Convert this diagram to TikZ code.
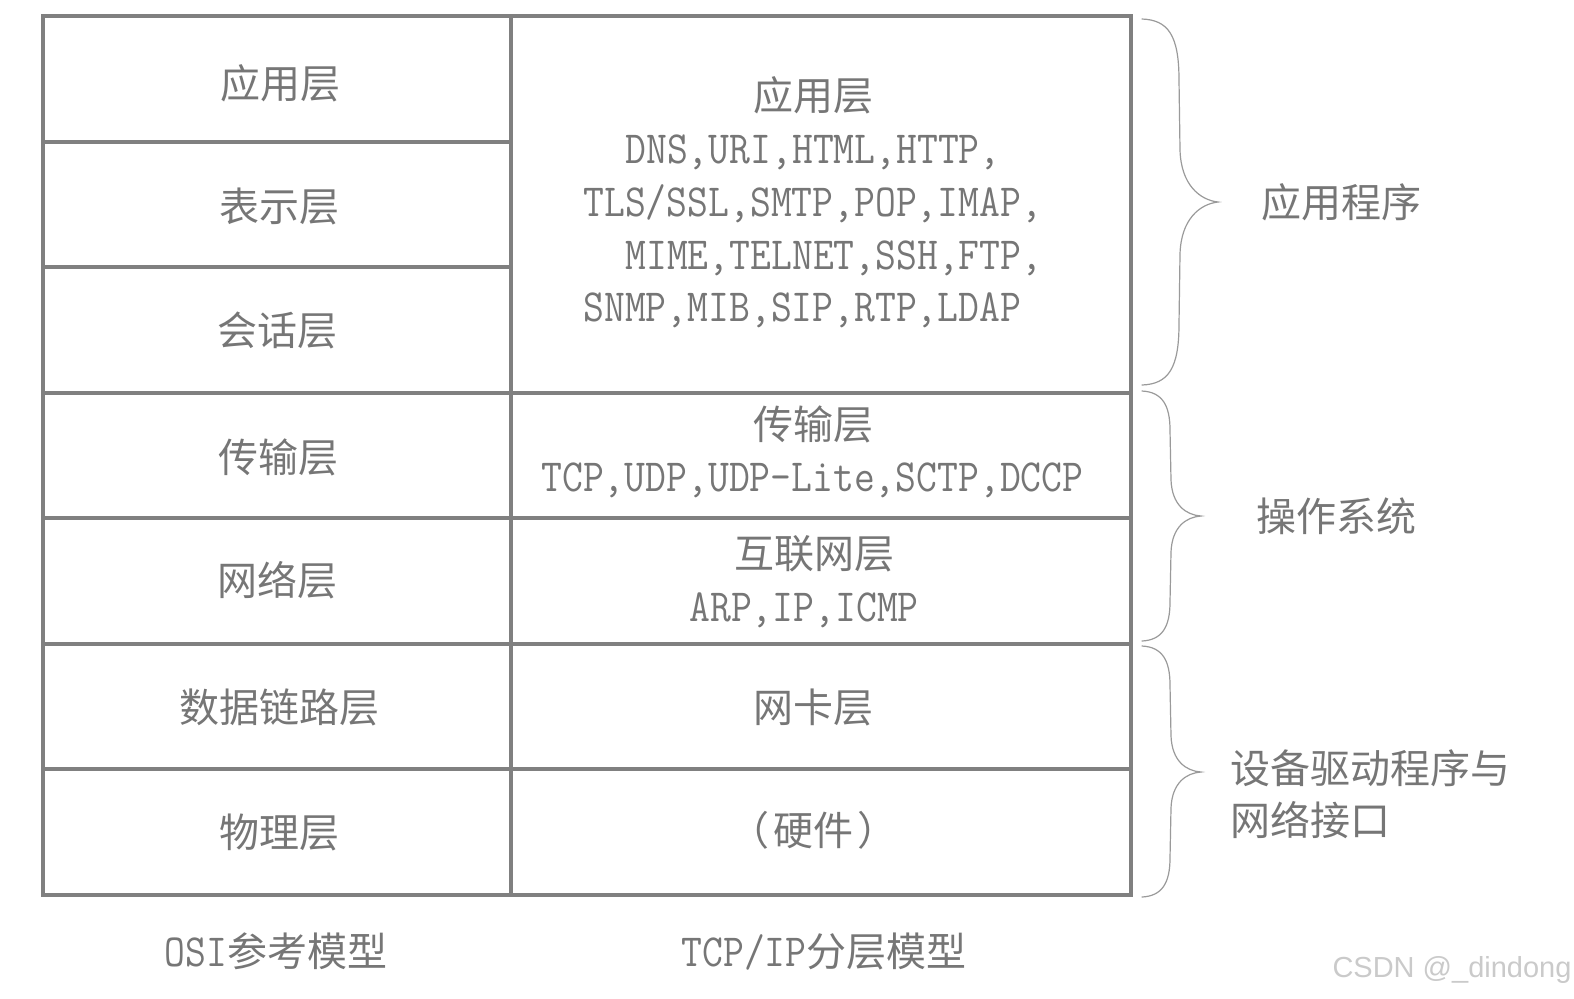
\documentclass[tikz,border=0pt]{standalone}
\usepackage{fontspec}
\setmainfont{Noto Sans CJK SC}
\newfontfamily\latfont[Scale=1.15,FakeStretch=0.88]{Latin Modern Mono}
\newfontfamily\markfont{Liberation Sans}
\definecolor{tablegray}{HTML}{808080}
\definecolor{textgray}{HTML}{767676}
\definecolor{bracegray}{HTML}{9A9A9A}
\definecolor{markgray}{HTML}{CACACA}
\begin{document}
\begin{tikzpicture}[x=0.5pt,y=-0.5pt,line join=miter,
  zh/.style={anchor=base,inner sep=0pt,text=textgray,font=\fontsize{20pt}{24pt}\selectfont},
  la/.style={anchor=base west,inner sep=0pt,text=textgray,font=\fontsize{20pt}{24pt}\selectfont\latfont},
  gridline/.style={draw=tablegray,line width=2pt},
  braceline/.style={draw=bracegray,line width=0.6pt,line cap=round}]
\path[use as bounding box] (0,0) rectangle (1574,998);
% Table frame, column divider and row lines.
\coordinate (tab-nw) at (43,16);
\coordinate (tab-se) at (1131,895);
\draw[gridline] (tab-nw) rectangle (tab-se);
\draw[gridline] (511,16) -- (511,895);
\foreach \y in {141.6,267.1}
  \draw[gridline] (43,\y) -- (511,\y);
\foreach \y in {392.7,518.3,643.9,769.4}
  \draw[gridline] (43,\y) -- (1131,\y);
% OSI column.
\node[zh] (osi-app)  at (280,98)  {应用层};
\node[zh] (osi-pres) at (279,221) {表示层};
\node[zh] (osi-sess) at (277,345) {会话层};
\node[zh] (osi-tran) at (278,472) {传输层};
\node[zh] (osi-net)  at (277,595) {网络层};
\node[zh] (osi-link) at (279,722) {数据链路层};
\node[zh] (osi-phy)  at (279,847) {物理层};
% TCP/IP column.
\node[zh] (tcp-app) at (813,110) {应用层};
\node[la] (tcp-app-1) at (625,163) {DNS,URI,HTML,HTTP,};
\node[la] (tcp-app-2) at (583,216) {TLS/SSL,SMTP,POP,IMAP,};
\node[la] (tcp-app-3) at (625,269) {MIME,TELNET,SSH,FTP,};
\node[la] (tcp-app-4) at (583,321) {SNMP,MIB,SIP,RTP,LDAP};
\node[zh] (tcp-tran) at (813,439) {传输层};
\node[la] (tcp-tran-1) at (541,491) {TCP,UDP,UDP-Lite,SCTP,DCCP};
\node[zh] (tcp-net) at (814,568) {互联网层};
\node[la] (tcp-net-1) at (689,621) {ARP,IP,ICMP};
\node[zh] (tcp-link) at (813,722) {网卡层};
\node[zh] (tcp-phy)  at (813,845) {（\kern2pt 硬件\kern2pt）};
% Captions below the table.
\node[zh] (cap-osi) at (276,966) {{\latfont OSI}参考模型};
\node[zh] (cap-tcp) at (824,966) {{\latfont TCP/IP}分层模型};
% Braces on the right.
\draw[braceline] (1142,19) .. controls (1168,20) and (1179,35) .. (1179,80)
  -- (1180,150) .. controls (1181,185) and (1200,200) .. (1218,202)
  .. controls (1200,204) and (1181,219) .. (1180,254)
  -- (1179,324) .. controls (1179,369) and (1168,384) .. (1142,385);
\draw[braceline] (1142,391) .. controls (1162,392) and (1170,405) .. (1170,430)
  -- (1171,480) .. controls (1172,505) and (1186,515) .. (1201,516)
  .. controls (1186,517) and (1172,527) .. (1171,552)
  -- (1170,602) .. controls (1170,627) and (1162,640) .. (1142,641);
\draw[braceline] (1142,646) .. controls (1162,647) and (1170,660) .. (1170,685)
  -- (1171,736) .. controls (1172,761) and (1186,771) .. (1201,772)
  .. controls (1186,773) and (1172,783) .. (1171,808)
  -- (1170,858) .. controls (1170,883) and (1162,896) .. (1142,897);
\node[zh] (grp-app) at (1341,217) {应用程序};
\node[zh] (grp-os)  at (1336,531) {操作系统};
\node[zh,anchor=base west] (grp-drv-1) at (1230,783) {设备驱动程序与};
\node[zh,anchor=base west] (grp-drv-2) at (1230,835) {网络接口};
% Watermark.
\node[anchor=base,inner sep=0pt,text=markgray,font=\fontsize{14.5pt}{16pt}\markfont] (mark) at (1452,977) {CSDN @\_dindong};
\end{tikzpicture}
\end{document}
